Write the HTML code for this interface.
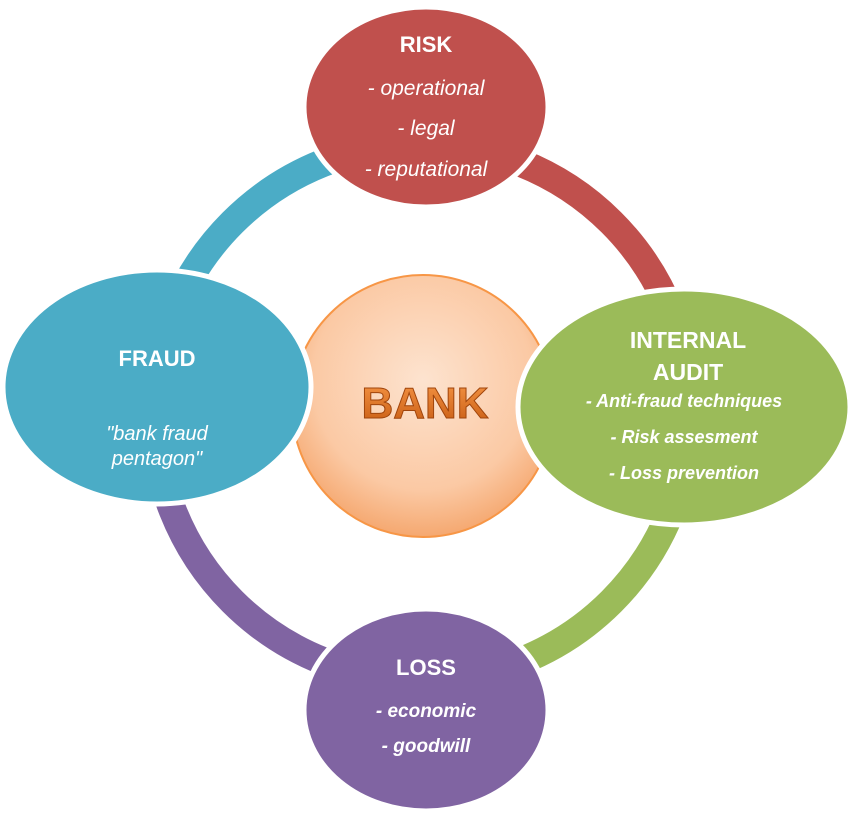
<!DOCTYPE html>
<html><head><meta charset="utf-8"><style>
html,body{margin:0;padding:0;background:#fff;}
svg text{font-family:"Liberation Sans",sans-serif;}
</style></head><body>
<svg width="850" height="814" viewBox="0 0 850 814" xmlns="http://www.w3.org/2000/svg">
<defs>
<radialGradient id="bk" cx="50%" cy="40%" r="60%">
<stop offset="0" stop-color="#fde3cf"/><stop offset="0.7" stop-color="#fbc9a4"/><stop offset="1" stop-color="#f5a870"/>
</radialGradient>
<linearGradient id="bt" x1="0" y1="0" x2="0" y2="1"><stop offset="0" stop-color="#f79646"/><stop offset="1" stop-color="#c55a11"/></linearGradient>
</defs>
<g fill="none" stroke-width="28">
<path d="M422 144 A268 268 0 0 1 690 412" stroke="#c0504d"/>
<path d="M154 412 A268 268 0 0 1 422 144" stroke="#4bacc6"/>
<path d="M422 680 A268 268 0 0 1 154 412" stroke="#8064a2"/>
<path d="M690 412 A268 268 0 0 1 422 680" stroke="#9bbb59"/>
</g>
<circle cx="423" cy="406" r="131" fill="url(#bk)" stroke="#f79646" stroke-width="2"/>
<text x="425" y="418" text-anchor="middle" font-size="44" font-weight="bold" fill="url(#bt)" stroke="#a0450c" stroke-width="1">BANK</text>
<ellipse cx="426" cy="107" rx="122" ry="100" fill="#c0504d" stroke="#fff" stroke-width="5"/>
<ellipse cx="157" cy="387" rx="154" ry="117" fill="#4bacc6" stroke="#fff" stroke-width="5"/>
<ellipse cx="684" cy="407" rx="166" ry="118" fill="#9bbb59" stroke="#fff" stroke-width="5"/>
<ellipse cx="426" cy="710" rx="122" ry="101" fill="#8064a2" stroke="#fff" stroke-width="5"/>
<g fill="#fff" text-anchor="middle">
<text x="426" y="52" font-size="22" font-weight="bold">RISK</text>
<g font-size="21" font-style="italic"><text x="426" y="95">- operational</text><text x="426" y="135">- legal</text><text x="426" y="176">- reputational</text></g>
<text x="157" y="366" font-size="22" font-weight="bold">FRAUD</text>
<g font-size="20" font-style="italic"><text x="157" y="440">"bank fraud</text><text x="157" y="465">pentagon"</text></g>
<text x="688" y="348" font-size="23" font-weight="bold">INTERNAL</text>
<text x="688" y="380" font-size="23" font-weight="bold">AUDIT</text>
<g font-size="18" font-style="italic" font-weight="bold"><text x="684" y="407">- Anti-fraud techniques</text><text x="684" y="443">- Risk assesment</text><text x="684" y="479">- Loss prevention</text></g>
<text x="426" y="675" font-size="22" font-weight="bold">LOSS</text>
<g font-size="19" font-style="italic" font-weight="bold"><text x="426" y="717">- economic</text><text x="426" y="752">- goodwill</text></g>
</g>
</svg>
</body></html>
